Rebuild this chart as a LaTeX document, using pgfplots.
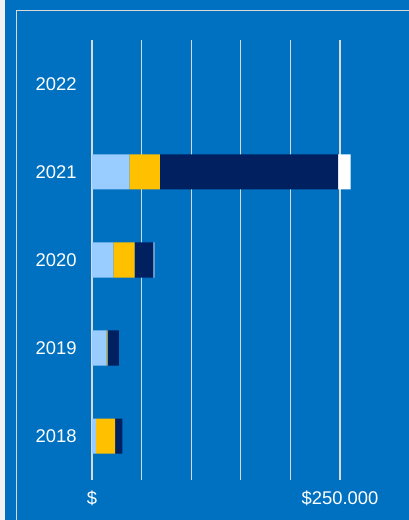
\documentclass[border=0pt]{standalone}
\usepackage{pgfplots}
\pgfplotsset{compat=1.18}
\usepackage{fontspec}
\setmainfont{Liberation Sans}

\definecolor{bgblue}{HTML}{0070C0}
\definecolor{ltblue}{HTML}{99CCFF}
\definecolor{gold}{HTML}{FFC000}
\definecolor{navy}{HTML}{002060}
\definecolor{rule}{HTML}{D9D9D9}

\begin{document}
\begin{tikzpicture}
% page: 409 x 520 px at 0.75pt per px
\fill[color=gray!10] (0,0) rectangle (3.75pt,390pt);
\fill[bgblue] (3.75pt,0) rectangle (306.75pt,390pt);
\draw[rule, line width=1.2pt] (12.4pt,-2pt) -- (12.4pt,382.1pt) -- (310pt,382.1pt);

\begin{axis}[
    at={(69pt,30pt)}, anchor=south west,
    scale only axis,
    width=186pt, height=330pt,
    xbar stacked,
    bar width=26.25pt,
    xmin=0, xmax=250000,
    ymin=2017.5, ymax=2022.5,
    clip=false,
    axis line style={draw=none},
    major tick length=0pt,
    xtick={0,50000,...,250000},
    xticklabels={\$,,,,,\$250.000},
    ytick={2018,2019,2020,2021,2022},
    yticklabels={2018,2019,2020,2021,2022},
    xmajorgrids,
    grid style={rule, line width=1pt},
    ticklabel style={font=\fontsize{13.8}{15}\selectfont, text=white},
    xticklabel style={yshift=-5pt},
    yticklabel style={xshift=-8pt},
]
\addplot[fill=ltblue, draw=none] coordinates {(4000,2018) (14800,2019) (21500,2020) (37600,2021)};
\addplot[fill=gold, draw=none] coordinates {(19200,2018) (1000,2019) (21500,2020) (30900,2021)};
\addplot[fill=navy, draw=none] coordinates {(7400,2018) (11400,2019) (18800,2020) (179700,2021)};
\addplot[fill=white, draw=none] coordinates {(0,2018) (0,2019) (1200,2020) (12400,2021)};
\end{axis}

\pgfresetboundingbox
\path (0,0) rectangle (306.75pt,390pt);
\end{tikzpicture}
\end{document}
